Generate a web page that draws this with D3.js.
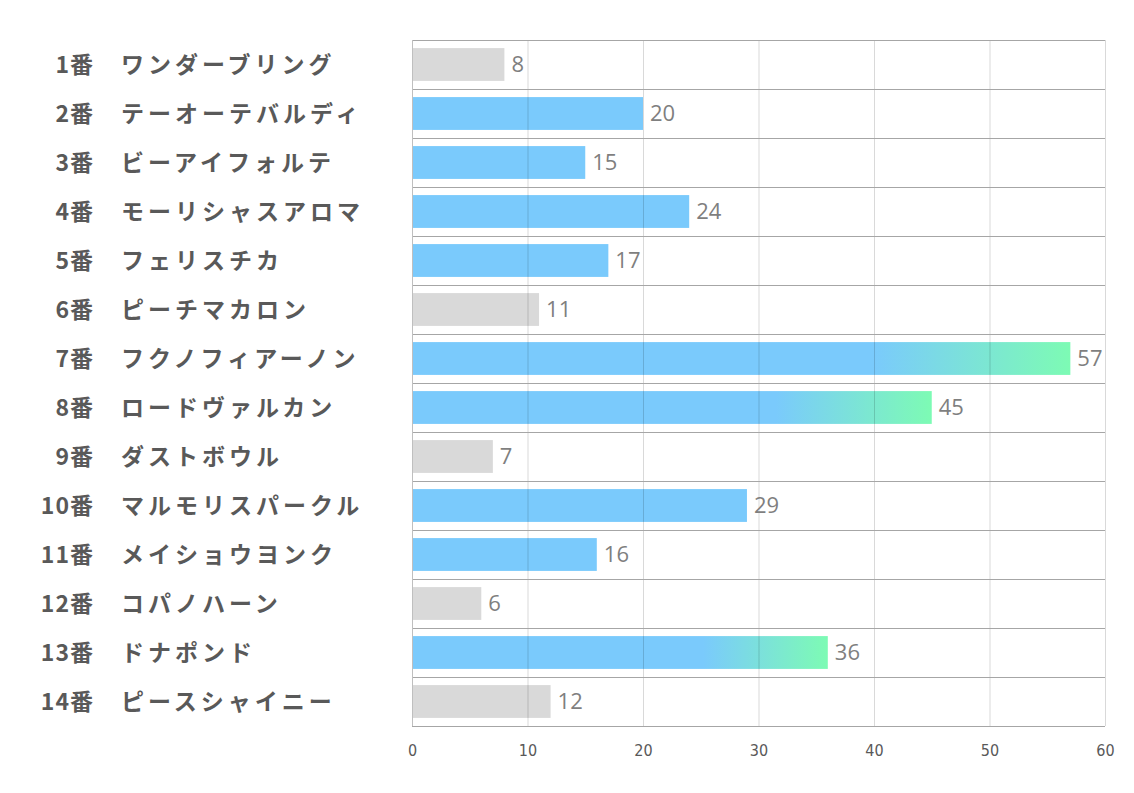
<!DOCTYPE html>
<html>
<head>
<meta charset="utf-8">
<script src="https://cdn.jsdelivr.net/npm/d3@7"></script>
<style>
  body { margin: 0; background: #fff; }
</style>
</head>
<body>
<script>
const numbers = ["1番","2番","3番","4番","5番","6番","7番","8番","9番","10番","11番","12番","13番","14番"];
const names = ["ワンダーブリング","テーオーテバルディ","ビーアイフォルテ","モーリシャスアロマ","フェリスチカ","ピーチマカロン","フクノフィアーノン","ロードヴァルカン","ダストボウル","マルモリスパークル","メイショウヨンク","コパノハーン","ドナポンド","ピースシャイニー"];
const values = [8, 20, 15, 24, 17, 11, 57, 45, 7, 29, 16, 6, 36, 12];
const xTicks = [0, 10, 20, 30, 40, 50, 60];

const width = 1134, height = 793;
const plotLeft = 412, plotRight = 1105, plotTop = 40, plotBottom = 726;

const svg = d3.select("body").append("svg")
    .attr("width", width)
    .attr("height", height);

const defs = svg.append("defs");
const grad = defs.append("linearGradient")
    .attr("id", "hot")
    .attr("x1", 0).attr("x2", 1).attr("y1", 0).attr("y2", 0);
grad.append("stop").attr("offset", 0.7).attr("stop-color", "#7acafc");
grad.append("stop").attr("offset", 1).attr("stop-color", "#7dfbb4");

const x = d3.scaleLinear().domain([0, 60]).range([plotLeft, plotRight]);
const y = d3.scaleBand()
    .domain(d3.range(values.length))
    .range([plotTop, plotBottom])
    .paddingInner(0.33)
    .paddingOuter(0.165);
const step = y.step();

const fillFor = v => v < 13 ? "#d9d9d9" : (v > 30 ? "url(#hot)" : "#7acafc");

// bars
svg.append("g").selectAll("rect")
    .data(values)
    .join("rect")
    .attr("x", x(0))
    .attr("y", (d, i) => y(i))
    .attr("width", d => x(d) - x(0))
    .attr("height", y.bandwidth())
    .attr("fill", fillFor);

// vertical grid (drawn over bars, faint)
svg.append("g").selectAll("line")
    .data(xTicks.slice(1))
    .join("line")
    .attr("x1", d => x(d) + 0.5).attr("x2", d => x(d) + 0.5)
    .attr("y1", plotTop).attr("y2", plotBottom)
    .attr("stroke", "rgba(0,0,0,0.15)")
    .attr("stroke-width", 1);

// row separators
svg.append("g").selectAll("line")
    .data(d3.range(values.length + 1))
    .join("line")
    .attr("x1", plotLeft).attr("x2", plotRight)
    .attr("y1", i => Math.round(plotTop + i * step) + 0.5)
    .attr("y2", i => Math.round(plotTop + i * step) + 0.5)
    .attr("stroke", "#a6a6a6")
    .attr("stroke-width", 1);

// left axis line
svg.append("line")
    .attr("x1", plotLeft + 0.5).attr("x2", plotLeft + 0.5)
    .attr("y1", plotTop).attr("y2", plotBottom)
    .attr("stroke", "#bfbfbf");

// x tick labels
svg.append("g")
    .attr("transform", `translate(0,${plotBottom + 24})`)
    .call(d3.axisBottom(x).tickValues(xTicks).tickSize(0).tickPadding(0))
    .call(g => g.select(".domain").remove())
    .selectAll("text")
    .attr("font-family", "'Liberation Sans Narrow', 'DejaVu Sans Condensed', sans-serif")
    .attr("font-size", 16)
    .attr("dy", "0.35em")
    .attr("fill", "#595959");

// value labels
svg.append("g").selectAll("text")
    .data(values)
    .join("text")
    .attr("x", d => x(d) + 7)
    .attr("y", (d, i) => y(i) + y.bandwidth() / 2)
    .attr("dy", "0.36em")
    .attr("font-family", "'Open Sans', 'Noto Sans', sans-serif")
    .attr("font-size", 22)
    .attr("fill", "#7f7f7f")
    .text(d => d);

// category labels
const lab = svg.append("g")
    .attr("font-family", "'Noto Sans CJK JP', sans-serif")
    .attr("font-weight", "bold")
    .attr("font-size", 23)
    .attr("fill", "#595959");

lab.selectAll("text.num")
    .data(numbers)
    .join("text")
    .attr("class", "num")
    .attr("x", 94)
    .attr("y", (d, i) => y(i) + y.bandwidth() / 2)
    .attr("dy", "0.35em")
    .attr("text-anchor", "end")
    .attr("letter-spacing", 1)
    .text(d => d);

lab.selectAll("text.name")
    .data(names)
    .join("text")
    .attr("class", "name")
    .attr("x", 121)
    .attr("y", (d, i) => y(i) + y.bandwidth() / 2)
    .attr("dy", "0.35em")
    .attr("letter-spacing", 4)
    .text(d => d);
</script>
</body>
</html>
